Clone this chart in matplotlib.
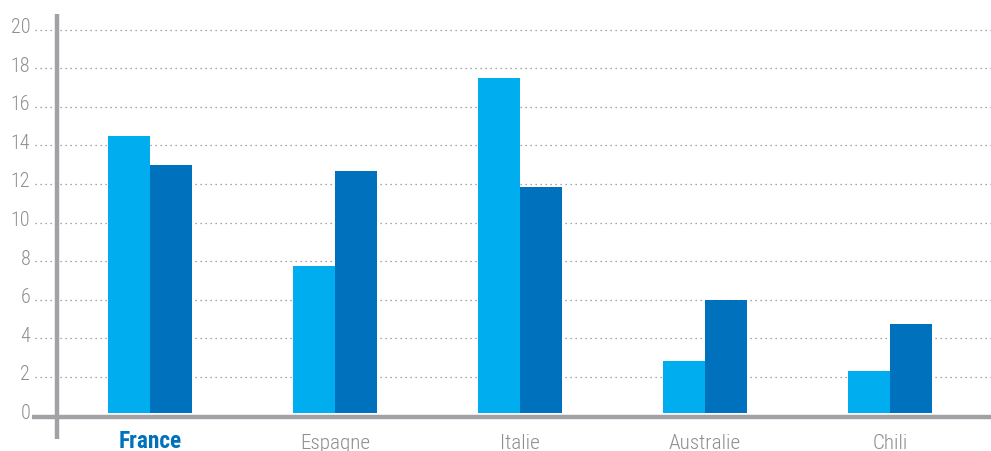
import matplotlib
matplotlib.use("Agg")
import matplotlib.pyplot as plt
from matplotlib import font_manager
import numpy as np

# data
countries = ["France", "Espagne", "Italie", "Australie", "Chili"]
series_a = [14.5, 7.75, 17.5, 2.83, 2.3]
series_b = [13.0, 12.67, 11.84, 6.0, 4.75]
yticks = [0, 2, 4, 6, 8, 10, 12, 14, 16, 18, 20]

light = "#00AEEF"
dark = "#0071BC"
axis_grey = "#A2A2A6"
text_grey = "#8E8E92"

names = {f.name for f in font_manager.fontManager.ttflist}
family = "DejaVu Sans"
for cand in ["Roboto Condensed", "Barlow Condensed", "Archivo Narrow", "Asap Condensed"]:
    if cand in names:
        family = cand
        break
plt.rcParams["font.family"] = [family, "DejaVu Sans"]

fig = plt.figure(figsize=(9.91, 4.52), dpi=100)
ax = fig.add_axes([0, 0, 1, 1])
ax.set_xlim(-0.811, 4.546)
ax.set_ylim(-1.829, 21.59)
ax.axis("off")

x = np.arange(len(countries))
w = 0.227
base = 0.15
ax.bar(x - w / 2, np.array(series_a) - base, width=w, color=light, bottom=base, zorder=3)
ax.bar(x + w / 2, np.array(series_b) - base, width=w, color=dark, bottom=base, zorder=3)

# dotted grid + tick labels
for t in yticks:
    if t > 0:
        ax.plot([-0.622, 4.546], [t, t], color="#8a8a8a", lw=0.9,
                linestyle=(0, (1, 3)), zorder=1)
    ax.text(-0.648, t - 0.12, str(t), ha="right", va="baseline",
            fontsize=14.5, color=text_grey, fontweight="light")

# axis lines
ax.plot([-0.638, 4.546], [-0.08, -0.08], color=axis_grey, lw=3.2,
        solid_capstyle="butt", zorder=4)
ax.plot([-0.503, -0.503], [-1.21, 20.81], color=axis_grey, lw=3.2,
        solid_capstyle="butt", zorder=4)

for i, c in enumerate(countries):
    if i == 0:
        ax.text(x[i], -1.61, c, ha="center", va="baseline", fontsize=16.8,
                color=dark, fontweight="bold")
    else:
        ax.text(x[i], -1.69, c, ha="center", va="baseline", fontsize=15.2,
                color=text_grey, fontweight="light")

fig.savefig("out.png", dpi=100)
